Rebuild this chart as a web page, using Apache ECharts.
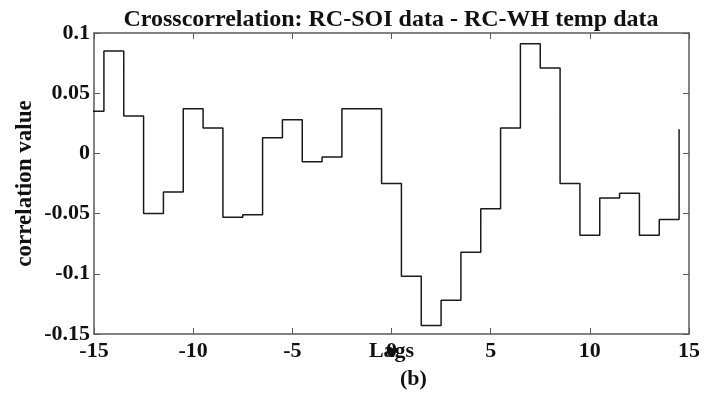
<!DOCTYPE html>
<html>
<head>
<meta charset="utf-8">
<script src="https://cdn.jsdelivr.net/npm/echarts@6/dist/echarts.min.js"></script>
<style>
  html, body { margin: 0; padding: 0; background: #fff; }
  #chart { width: 718px; height: 399px; }
</style>
</head>
<body>
<div id="chart"></div>
<script>
// lags -15..15, each value drawn as a stair step centred on its lag
const lags = [-15, -14, -13, -12, -11, -10, -9, -8, -7, -6, -5, -4, -3, -2, -1,
  0, 1, 2, 3, 4, 5, 6, 7, 8, 9, 10, 11, 12, 13, 14, 15];
const corrValues = [0.035, 0.085, 0.031, -0.050, -0.032, 0.037, 0.021, -0.053, -0.051,
  0.013, 0.028, -0.007, -0.003, 0.037, 0.037, -0.025, -0.102, -0.143, -0.122,
  -0.082, -0.046, 0.021, 0.091, 0.071, -0.025, -0.068, -0.037, -0.033, -0.068,
  -0.055, 0.020];

const chartTitle = 'Crosscorrelation: RC-SOI data - RC-WH temp data';
const xName = 'Lags';
const yName = 'correlation value';
const panelLabel = '(b)';

const font = '"Liberation Serif", "Times New Roman", serif';
const axisGrey = '#5a5a5a';

const chart = echarts.init(document.getElementById('chart'));

// stairs: each step starts half a lag before its lag
const stairData = lags.map((l, i) => [l - 0.5, corrValues[i]]);

const fmt = (v) => String(parseFloat(v.toFixed(2)));

const option = {
  animation: false,
  backgroundColor: '#fff',
  title: {
    text: chartTitle,
    left: 386,
    textAlign: 'center',
    top: 3,
    textStyle: { fontFamily: font, fontWeight: 'bold', fontSize: 24, color: '#111' }
  },
  grid: { left: 94, right: 29, top: 33, bottom: 65 },
  xAxis: [
    {
      type: 'value',
      min: -15,
      max: 15,
      interval: 5,
      name: xName,
      nameLocation: 'middle',
      nameGap: 6,
      nameMoveOverlap: false,
      nameTextStyle: {
        fontFamily: font, fontWeight: 'bold', fontSize: 22, color: '#111', verticalAlign: 'top'
      },
      axisLine: { onZero: false, lineStyle: { color: axisGrey, width: 1.5 } },
      axisTick: { inside: true, length: 6, lineStyle: { color: axisGrey } },
      axisLabel: {
        margin: 6, formatter: fmt,
        fontFamily: font, fontWeight: 'bold', fontSize: 22, color: '#111'
      },
      splitLine: { show: false }
    },
    {
      type: 'value',
      position: 'top',
      min: -15,
      max: 15,
      interval: 5,
      axisLine: { onZero: false, lineStyle: { color: axisGrey, width: 1.5 } },
      axisTick: { inside: true, length: 6, lineStyle: { color: axisGrey } },
      axisLabel: { show: false },
      splitLine: { show: false }
    }
  ],
  yAxis: [
    {
      type: 'value',
      min: -0.15,
      max: 0.1,
      interval: 0.05,
      name: yName,
      nameLocation: 'middle',
      nameGap: 57,
      nameMoveOverlap: false,
      nameTextStyle: { fontFamily: font, fontWeight: 'bold', fontSize: 23, color: '#111' },
      axisLine: { show: true, onZero: false, lineStyle: { color: axisGrey, width: 1.5 } },
      axisTick: { show: true, inside: true, length: 6, lineStyle: { color: axisGrey } },
      axisLabel: {
        margin: 4, formatter: fmt,
        fontFamily: font, fontWeight: 'bold', fontSize: 22, color: '#111'
      },
      splitLine: { show: false }
    },
    {
      type: 'value',
      position: 'right',
      min: -0.15,
      max: 0.1,
      interval: 0.05,
      axisLine: { show: true, onZero: false, lineStyle: { color: axisGrey, width: 1.5 } },
      axisTick: { show: true, inside: true, length: 6, lineStyle: { color: axisGrey } },
      axisLabel: { show: false },
      splitLine: { show: false }
    }
  ],
  series: [
    {
      type: 'line',
      step: 'end',
      clip: true,
      showSymbol: false,
      data: stairData,
      lineStyle: { color: '#1a1a1a', width: 1.5 }
    }
  ],
  graphic: [
    {
      type: 'text',
      left: 400,
      top: 368,
      style: {
        text: panelLabel,
        font: 'bold 22px ' + font,
        fill: '#111'
      }
    }
  ]
};

chart.setOption(option);
</script>
</body>
</html>
